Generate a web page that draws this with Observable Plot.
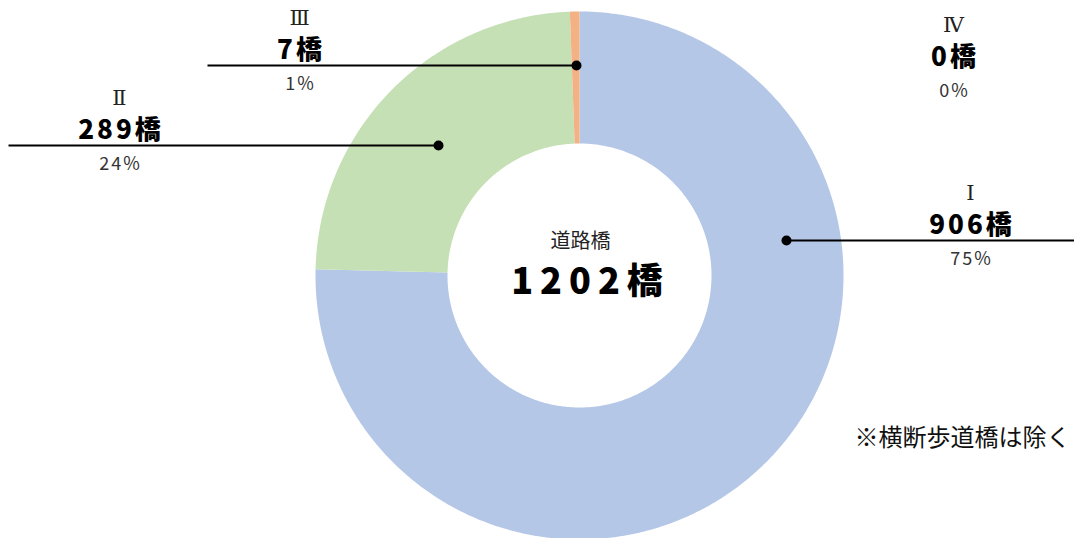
<!DOCTYPE html>
<html><head><meta charset="utf-8">
<script src="https://cdn.jsdelivr.net/npm/d3@7"></script>
<script src="https://cdn.jsdelivr.net/npm/@observablehq/plot@0.6"></script>
<style>body{margin:0;background:#fff} svg{display:block}
.val text{letter-spacing:3px}
.pct text{letter-spacing:2px}
.big text{letter-spacing:7px}
</style>
</head><body><div id="chart"></div>
<script>
// ---- data ----
const categories = ["Ⅰ", "Ⅱ", "Ⅲ", "Ⅳ"];
const counts = [906, 289, 7, 0];
const sliceColors = ["#B4C7E7", "#C5E0B4", "#F4B183", "#FFD966"];
const centerTitle = "道路橋";
const unit = "橋";
const footnote = "※横断歩道橋は除く";

// ---- layout ----
const W = 1074, H = 538, cx = 579, cy = 275, R = 264, r0 = 132;
const labelLayout = [
  {x: 970, lineY: 240, dotX: 786, lineEnd: 1074},
  {x: 119, lineY: 145, dotX: 438, lineEnd: 8},
  {x: 299, lineY: 65, dotX: 576, lineEnd: 207},
  {x: 953, lineY: 72, dotX: null, lineEnd: null}
];
const FONT = "'Noto Sans CJK JP', 'Noto Sans', sans-serif";

const total = d3.sum(counts);
const rows = categories.map((c, i) => ({cat: c, count: counts[i], pct: Math.round(counts[i] / total * 100), ...labelLayout[i]}));
const arcs = d3.pie().sort(null).value(d => d.count)(rows);

const pt = (a, rad) => [cx + rad * Math.sin(a), cy - rad * Math.cos(a)];
const polys = [];
for (const a of arcs) {
  if (a.endAngle <= a.startAngle) continue;
  const n = Math.max(4, Math.ceil((a.endAngle - a.startAngle) / 0.01));
  for (let k = 0; k <= n; k++) {
    const t = a.startAngle + (a.endAngle - a.startAngle) * k / n;
    const [x, y] = pt(t, R); polys.push({cat: a.data.cat, x, y});
  }
  for (let k = n; k >= 0; k--) {
    const t = a.startAngle + (a.endAngle - a.startAngle) * k / n;
    const [x, y] = pt(t, r0); polys.push({cat: a.data.cat, x, y});
  }
}
const lined = rows.filter(d => d.dotX != null);

const chart = Plot.plot({
  width: W, height: H, margin: 0,
  x: {domain: [0, W], range: [0, W], axis: null},
  y: {domain: [0, H], range: [0, H], axis: null},
  color: {domain: categories, range: sliceColors},
  marks: [
    Plot.line(polys, {x: "x", y: "y", z: "cat", fill: "cat", stroke: "none", curve: "linear-closed"}),
    Plot.link(lined, {x1: "dotX", y1: "lineY", x2: "lineEnd", y2: "lineY", stroke: "black", strokeWidth: 2}),
    Plot.dot(lined, {x: "dotX", y: "lineY", r: 5, fill: "black", stroke: "none"}),
    Plot.text(rows, {x: "x", y: d => d.lineY - 47, text: "cat", fontSize: 21, fill: "#222", fontFamily: "'DejaVu Serif', serif"}),
    Plot.text(rows, {x: "x", y: d => d.lineY - 15, dx: 1.5, text: d => d.count + unit, fontSize: 26, fontWeight: 900, fill: "black", fontFamily: FONT, className: "val"}),
    Plot.text(rows, {x: "x", y: d => d.lineY + 19, dx: 1, text: d => d.pct + "%", fontSize: 18, fill: "#333", fontFamily: FONT, className: "pct"}),
    Plot.text([centerTitle], {x: cx + 1, y: cy - 34, text: d => d, fontSize: 20, fill: "#222", fontFamily: FONT}),
    Plot.text([total], {x: cx + 11, y: cy + 7, text: d => d + unit, fontSize: 36, fontWeight: 900, fill: "black", fontFamily: FONT, className: "big"}),
    Plot.text([footnote], {x: 1070, y: 438, text: d => d, textAnchor: "end", fontSize: 24, fill: "#111", fontFamily: FONT})
  ]
});
document.getElementById("chart").appendChild(chart);
</script>
</body></html>
